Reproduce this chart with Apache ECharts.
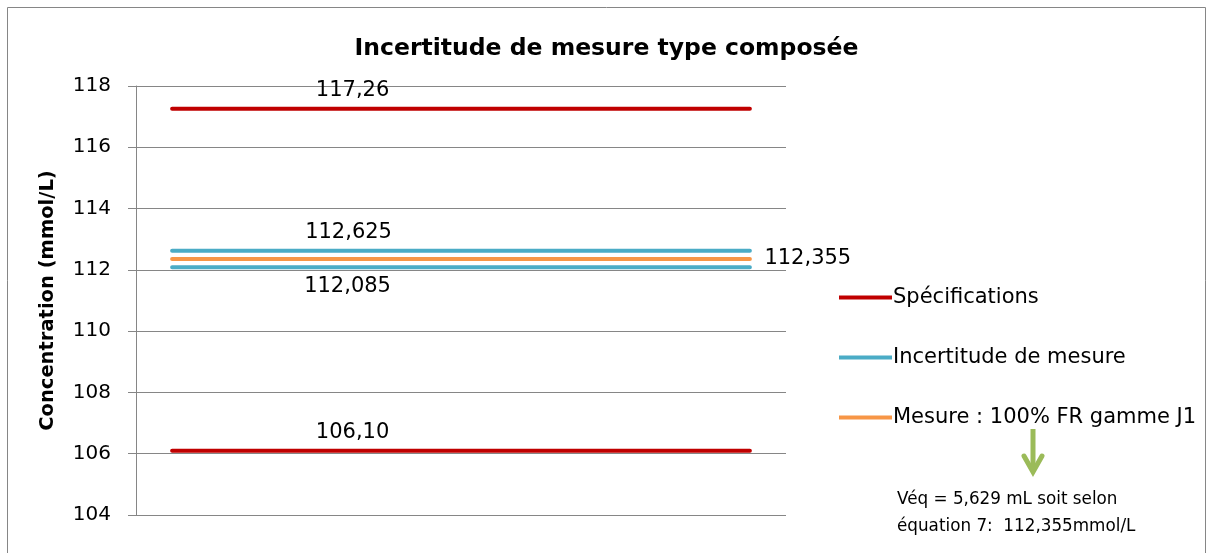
<!DOCTYPE html>
<html>
<head>
<meta charset="utf-8">
<script src="https://cdn.jsdelivr.net/npm/echarts@6/dist/echarts.min.js"></script>
<style>html,body{margin:0;padding:0;background:#fff}#c{width:1213px;height:553px}</style>
</head>
<body>
<div id="c"></div>
<script>
const categories = ['1','2','3','4','5','6','7','8','9'];
const specHigh = [117.26,117.26,117.26,117.26,117.26,117.26,117.26,117.26,117.26];
const specLow = [106.10,106.10,106.10,106.10,106.10,106.10,106.10,106.10,106.10];
const incHigh = [112.625,112.625,112.625,112.625,112.625,112.625,112.625,112.625,112.625];
const incLow = [112.085,112.085,112.085,112.085,112.085,112.085,112.085,112.085,112.085];
const mesure = [112.355,112.355,112.355,112.355,112.355,112.355,112.355,112.355,112.355];
const labelTexts = { specHigh: '117,26', specLow: '106,10', incHigh: '112,625', incLow: '112,085', mesure: '112,355' };
const yTicks = { min: 104, max: 118, interval: 2 };
const legendNames = ['Spécifications', 'Incertitude de mesure', 'Mesure : 100% FR gamme J1'];
const colors = { spec: '#C00000', inc: '#4BACC6', mes: '#F79646' };
const font = '"DejaVu Sans", sans-serif';

function withLabel(arr, idx, text, labelOpt) {
  return arr.map((v, i) => i === idx
    ? { value: v, label: Object.assign({ show: true, formatter: text, color: '#000', fontSize: 21, fontFamily: font }, labelOpt) }
    : v);
}
function lineSeries(name, data, color) {
  return {
    type: 'line', name: name, data: data,
    symbol: 'circle', symbolSize: 1, showSymbol: true,
    itemStyle: { color: color },
    lineStyle: { color: color, width: 4, cap: 'round' },
    emphasis: { disabled: true },
    animation: false
  };
}

const chart = echarts.init(document.getElementById('c'));
chart.setOption({
  backgroundColor: '#fff',
  animation: false,
  title: {
    text: 'Incertitude de mesure type composée',
    left: 'center', top: 32,
    textStyle: { fontFamily: font, fontSize: 23.5, fontWeight: 'bold', color: '#000' }
  },
  grid: { left: 136, right: 427, top: 86, bottom: 38 },
  legend: {
    orient: 'vertical', left: 834, top: 282,
    data: legendNames.map(n => ({ name: n, icon: 'rect' })),
    itemWidth: 53, itemHeight: 4, itemGap: 39,
    textStyle: { fontFamily: font, fontSize: 21, color: '#000', lineHeight: 21, padding: [0, 0, 0, -4] },
    selectedMode: false
  },
  xAxis: {
    type: 'category', data: categories, boundaryGap: true,
    axisLine: { show: false }, axisTick: { show: false }, axisLabel: { show: false }
  },
  yAxis: {
    type: 'value', min: yTicks.min, max: yTicks.max, interval: yTicks.interval,
    name: 'Concentration (mmol/L)', nameLocation: 'middle', nameGap: 78,
    nameTextStyle: { fontFamily: font, fontSize: 19.5, fontWeight: 'bold', color: '#000' },
    axisLine: { show: true, lineStyle: { color: '#868686', width: 1 } },
    axisTick: { show: true, length: 8, lineStyle: { color: '#868686' } },
    axisLabel: { fontFamily: font, fontSize: 20, color: '#000', margin: 25 },
    splitLine: { show: true, lineStyle: { color: '#868686', width: 1 } }
  },
  series: [
    lineSeries(legendNames[0], withLabel(specHigh, 2, labelTexts.specHigh, { position: 'top', distance: 7, offset: [36, 0] }), colors.spec),
    lineSeries(legendNames[0], withLabel(specLow, 2, labelTexts.specLow, { position: 'top', distance: 7, offset: [36, 0] }), colors.spec),
    lineSeries(legendNames[1], withLabel(incHigh, 2, labelTexts.incHigh, { position: 'top', distance: 7, offset: [32, 0] }), colors.inc),
    lineSeries(legendNames[1], withLabel(incLow, 2, labelTexts.incLow, { position: 'bottom', distance: 8, offset: [31, 0] }), colors.inc),
    lineSeries(legendNames[2], withLabel(mesure, 8, labelTexts.mesure, { position: 'right', distance: 14 }), colors.mes)
  ],
  graphic: [
    { type: 'rect', shape: { x: 7.5, y: 7.5, width: 1198, height: 560 }, style: { fill: 'none', stroke: '#868686', lineWidth: 1 }, silent: true },
    { type: 'line', shape: { x1: 1033, y1: 429, x2: 1033, y2: 470 }, style: { stroke: '#9BBB59', lineWidth: 5 }, silent: true },
    { type: 'polyline', shape: { points: [[1024, 456], [1033, 472], [1042, 456]] }, style: { stroke: '#9BBB59', lineWidth: 5, fill: 'none', lineCap: 'round', lineJoin: 'miter' }, silent: true },
    { type: 'text', left: 897, top: 491, style: { text: 'Véq = 5,629 mL soit selon', fontFamily: font, fontSize: 16.8, fill: '#000' }, silent: true },
    { type: 'text', left: 897, top: 518, style: { text: 'équation 7:  112,355mmol/L', fontFamily: font, fontSize: 16.8, fill: '#000' }, silent: true }
  ]
});
</script>
</body>
</html>
